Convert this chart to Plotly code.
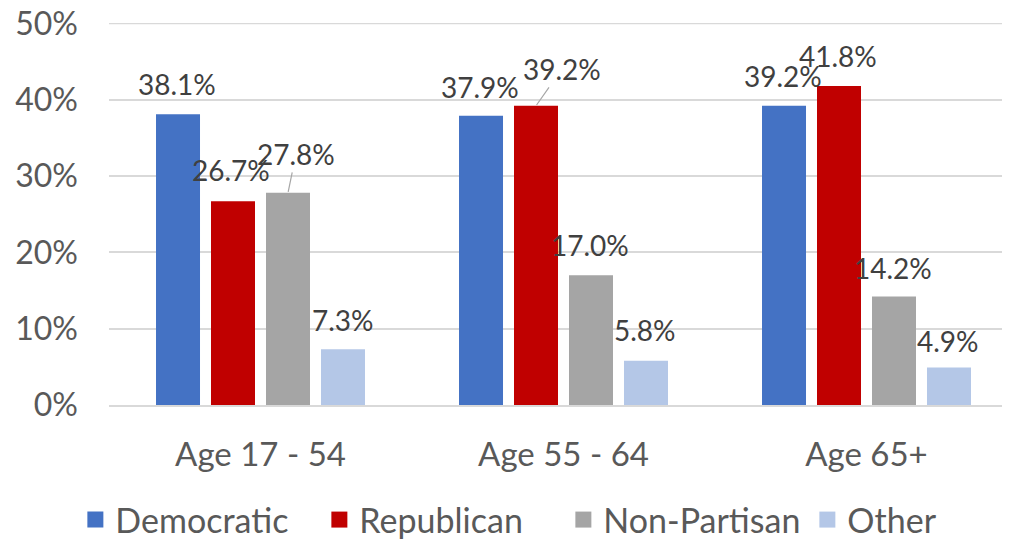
import plotly.graph_objects as go

categories = ["Age 17 - 54", "Age 55 - 64", "Age 65+"]
series_names = ["Democratic", "Republican", "Non-Partisan", "Other"]
democratic = [38.1, 37.9, 39.2]
republican = [26.7, 39.2, 41.8]
non_partisan = [27.8, 17.0, 14.2]
other = [7.3, 5.8, 4.9]
colors = ["#4472C4", "#C00000", "#A5A5A5", "#B4C7E7"]
y_ticks = [0, 10, 20, 30, 40, 50]
y_tick_labels = ["0%", "10%", "20%", "30%", "40%", "50%"]

series_values = [democratic, republican, non_partisan, other]

FONT = "Lato"
fig = go.Figure()
for name, vals, col in zip(series_names, series_values, colors):
    fig.add_trace(go.Bar(x=categories, y=vals, name=name, marker=dict(color=col, line=dict(width=0)),
                         showlegend=False))
# legend entries with larger square symbols
for name, col in zip(series_names, colors):
    fig.add_trace(go.Scatter(x=[None], y=[None], mode="markers", name=name,
                             marker=dict(symbol="square", size=20, color=col)))

bargap = 0.274
slot = (1 - bargap) / 4

label_offsets = {
    (0, 0): (-1, 30), (1, 0): (-2, 31), (3, 0): (0, 29),
    (0, 1): (-1, 29), (2, 1): (-1, 30), (3, 1): (-1, 31),
    (0, 2): (-1, 30), (1, 2): (-1, 30), (2, 2): (-1, 29), (3, 2): (-1, 27),
}
leader = {(2, 0): (8, -39), (1, 1): (26, -37)}

annotations = []
for j, vals in enumerate(series_values):
    for i, v in enumerate(vals):
        xpos = i + (j - 1.5) * slot
        txt = f"{v:.1f}%"
        if (j, i) in leader:
            ax, ay = leader[(j, i)]
            annotations.append(dict(x=xpos, y=v, xref="x", yref="y", text=txt, showarrow=True,
                                    arrowhead=0, arrowwidth=1.2, arrowcolor="#A6A6A6",
                                    ax=ax, ay=ay, startstandoff=0, standoff=1,
                                    font=dict(family=FONT, size=28, color="#404040")))
        else:
            dx, dy = label_offsets[(j, i)]
            annotations.append(dict(x=xpos, y=v, xref="x", yref="y", text=txt, showarrow=False,
                                    xshift=dx, yshift=dy, yanchor="middle",
                                    font=dict(family=FONT, size=28, color="#404040")))

# top gridline (at the edge of the range)
fig.add_shape(type="line", xref="paper", yref="y", x0=0, x1=1, y0=y_ticks[-1], y1=y_ticks[-1],
              line=dict(color="#D9D9D9", width=1.5), layer="below")

fig.update_layout(
    width=1010, height=540,
    margin=dict(l=101, r=0, t=15, b=143, autoexpand=False),
    paper_bgcolor="white", plot_bgcolor="white",
    barmode="group", bargap=bargap, bargroupgap=0.2,
    font=dict(family=FONT, color="#595959"),
    annotations=annotations,
    legend=dict(orientation="h", x=-0.037, xanchor="left", entrywidth=199, entrywidthmode="pixels",
                y=-0.301, yanchor="middle", font=dict(family=FONT, size=34, color="#595959"),
                itemclick=False),
    xaxis=dict(range=[-0.5, 2.5], showline=True, linecolor="#D9D9D9", linewidth=2,
               tickfont=dict(family=FONT, size=33, color="#595959"), ticks="", tickangle=0,
               ticklabelstandoff=19, showgrid=False),
    yaxis=dict(range=[0, 50.05], tickvals=y_ticks, ticktext=y_tick_labels, showgrid=True,
               gridcolor="#D9D9D9", gridwidth=1.5, zeroline=False, ticklabeloverflow="allow",
               tickfont=dict(family=FONT, size=32, color="#595959"), ticklabelstandoff=30),
)

fig.write_html("out.html")
